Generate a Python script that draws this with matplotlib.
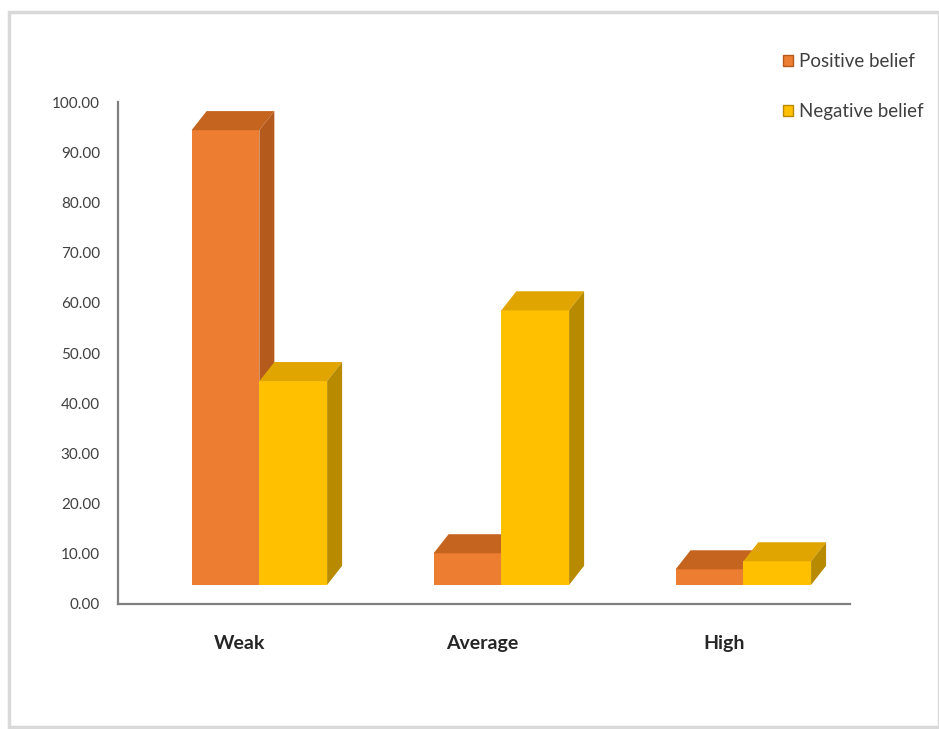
import matplotlib
matplotlib.use("Agg")
import matplotlib.pyplot as plt
from matplotlib.patches import Polygon, Patch, Rectangle
import numpy as np

categories = ["Weak", "Average", "High"]
positive_belief = [90.6, 6.3, 3.1]
negative_belief = [40.6, 54.7, 4.7]
y_ticks = [0, 10, 20, 30, 40, 50, 60, 70, 80, 90, 100]

plt.rcParams['font.family'] = ['Lato', 'DejaVu Sans']

# estilo de las barras 3D
FLOOR = 3.8          # el "suelo" del grafico 3D queda un poco por encima del eje
WIDTH = 0.28
DX, DY = 0.062, 3.8  # profundidad en unidades de datos
series = [
    (positive_belief, -0.2, '#ED7D31', '#C5641F', '#B45A1C', 'Positive belief'),
    (negative_belief, 0.08, '#FFC000', '#E0A500', '#B88A00', 'Negative belief'),
]

fig = plt.figure(figsize=(9.39, 7.29), dpi=100)
fig.patches.append(Rectangle((0.010, 0.003), 0.99, 0.98, transform=fig.transFigure,
                             fill=False, edgecolor='#d9d9d9', linewidth=2.5))

ax = fig.add_axes([0.1257, 0.1715, 0.7793, 0.6885])
x = np.arange(len(categories))

for vals, off, front, top, side, label in series:
    x0s = x + off
    bars = ax.bar(x0s, vals, width=WIDTH, bottom=FLOOR, align='edge',
                  color=front, edgecolor='none', zorder=3)
    for b in bars:
        x0, x1 = b.get_x(), b.get_x() + b.get_width()
        y0, y1 = b.get_y(), b.get_y() + b.get_height()
        ax.add_patch(Polygon([(x0, y1), (x1, y1), (x1 + DX, y1 + DY), (x0 + DX, y1 + DY)],
                             closed=True, facecolor=top, edgecolor='none', zorder=3))
        ax.add_patch(Polygon([(x1, y0), (x1 + DX, y0 + DY), (x1 + DX, y1 + DY), (x1, y1)],
                             closed=True, facecolor=side, edgecolor='none', zorder=3))

ax.set_xlim(-0.504, 2.52)
ax.set_ylim(0, 100)
ax.set_yticks(y_ticks)
ax.set_yticklabels([f"{v:.2f}" for v in y_ticks], fontsize=11, color='#404040')
ax.set_xticks(x)
ax.set_xticklabels(categories, fontsize=14, fontweight='bold', color='#262626')
ax.tick_params(axis='y', length=0, pad=13)
ax.tick_params(axis='x', length=0, pad=22)

for s in ['top', 'right']:
    ax.spines[s].set_visible(False)
for s in ['left', 'bottom']:
    ax.spines[s].set_color('#7f7f7f')
    ax.spines[s].set_linewidth(1.6)

handles = [Patch(facecolor=s[2], edgecolor=s[4], label=s[5]) for s in series]
fig.legend(handles=handles, loc='upper left', bbox_to_anchor=(0.826, 0.937),
           frameon=False, fontsize=13.5, labelcolor='#404040', handlelength=0.55,
           handleheight=0.55, handletextpad=0.3, labelspacing=1.75, borderaxespad=0)

fig.savefig('out.png', dpi=100, facecolor='white')
